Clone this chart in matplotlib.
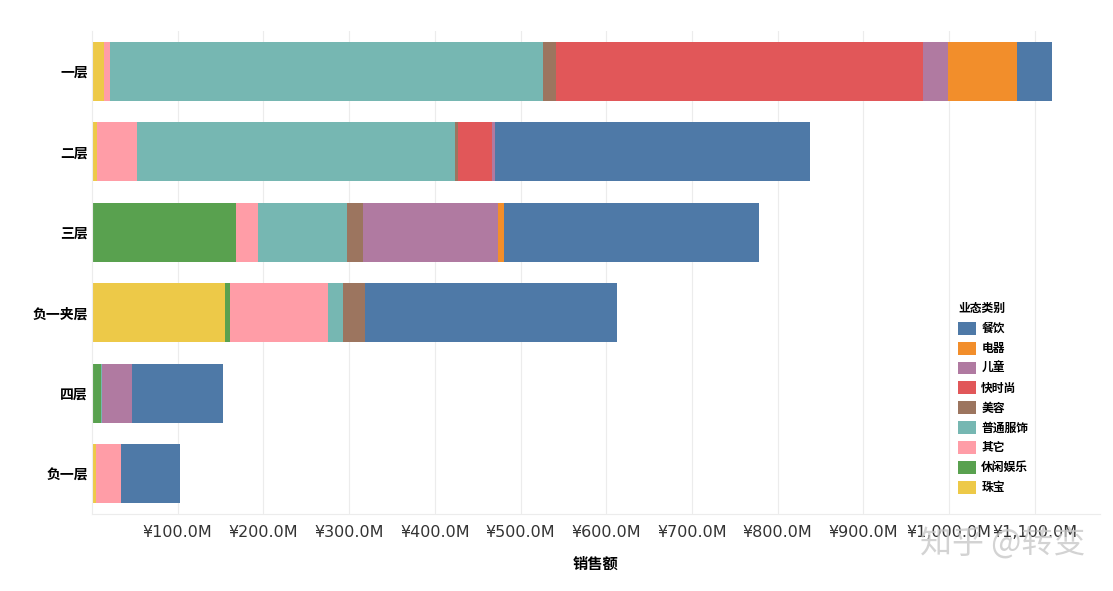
import matplotlib.pyplot as plt
from matplotlib.patches import Patch
from matplotlib.ticker import FuncFormatter

plt.rcParams['font.family'] = ['Noto Sans CJK SC', 'DejaVu Sans']

# 楼层（从上到下）
floors = ['一层', '二层', '三层', '负一夹层', '四层', '负一层']

# 各业态销售额（百万元），顺序同 floors
zhubao = [14, 5.5, 0, 155, 0, 4.7]          # 珠宝
xiuxian = [0, 0, 168, 5.8, 10.5, 0]         # 休闲娱乐
qita = [7, 46.5, 25.7, 114, 0, 29]          # 其它
fushi = [505, 371, 104, 17.5, 1.2, 0]       # 普通服饰
meirong = [15, 3.5, 18.7, 25.7, 0, 0]       # 美容
kuaishishang = [429, 40, 0, 0, 0, 0]        # 快时尚
ertong = [29, 3.5, 157.5, 0, 35, 0]         # 儿童
dianqi = [80.5, 0, 7, 0, 0, 0]              # 电器
canyin = [41, 367.5, 297.5, 294, 106, 69]   # 餐饮

series = [
    ('珠宝', zhubao, '#EDC948'),
    ('休闲娱乐', xiuxian, '#59A14F'),
    ('其它', qita, '#FF9DA7'),
    ('普通服饰', fushi, '#76B7B2'),
    ('美容', meirong, '#9C755F'),
    ('快时尚', kuaishishang, '#E15759'),
    ('儿童', ertong, '#B07AA1'),
    ('电器', dianqi, '#F28E2B'),
    ('餐饮', canyin, '#4E79A7'),
]

fig = plt.figure(figsize=(11.13, 5.91), dpi=100)
ax = fig.add_axes([92 / 1113, 1 - 514 / 591, (1100 - 92) / 1113, (514 - 31) / 591])

y = list(range(len(floors)))
left = [0.0] * len(floors)
for name, vals, color in series:
    ax.barh(y, vals, left=left, height=0.73, color=color, linewidth=0)
    left = [a + b for a, b in zip(left, vals)]

ax.set_ylim(len(floors) - 0.5, -0.5)
ax.set_xlim(0, 1176)
ax.set_yticks(y)
ax.set_yticklabels(floors, fontsize=10, fontweight='bold')
ax.set_xticks(range(100, 1200, 100))
ax.xaxis.set_major_formatter(FuncFormatter(lambda v, p: f'¥{v:,.1f}M'))
ax.tick_params(axis='x', labelsize=11.5, length=0, pad=8)
ax.tick_params(axis='y', length=0, pad=3)
for lab in ax.get_xticklabels():
    lab.set_family(['DejaVu Sans'])
    lab.set_color('#333333')
ax.set_xlabel('销售额', fontsize=11, fontweight='bold', labelpad=11)

ax.grid(axis='x', color='#ececec', linewidth=0.8)
ax.set_axisbelow(True)
for s in ['top', 'right']:
    ax.spines[s].set_visible(False)
ax.spines['left'].set_color('#ececec')
ax.spines['bottom'].set_color('#ececec')

handles = [Patch(facecolor=c, label=n) for n, v, c in reversed(series)]
leg = fig.legend(handles=handles, title='业态类别', loc='upper left',
                 bbox_to_anchor=(950 / 1113, 1 - 294 / 591), frameon=False,
                 prop={'size': 8.5, 'weight': 'bold'}, handlelength=1.5, handleheight=1.3,
                 labelspacing=0.55, handletextpad=0.45, borderpad=0.2)
leg.get_title().set_fontweight('bold')
leg.get_title().set_fontsize(8.5)
leg._legend_box.align = 'left'

fig.text(1085 / 1113, 1 - 544 / 591, '知乎 @转变', fontsize=23, color='#c8c8c8',
         ha='right', va='center', alpha=0.8)

fig.savefig('out.png', dpi=100)
